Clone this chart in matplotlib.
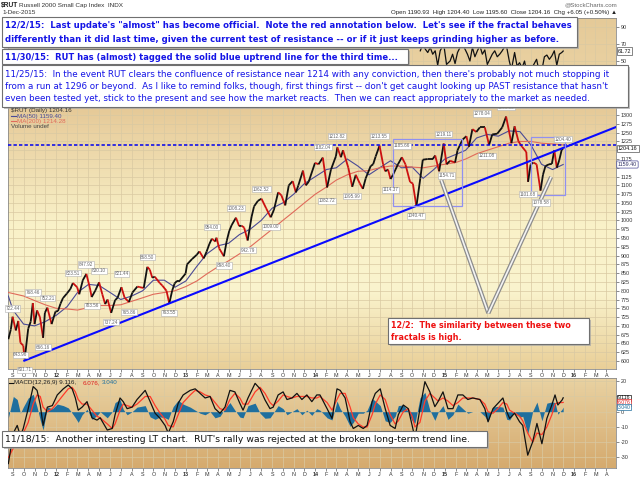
import numpy as np
import pandas as pd
import matplotlib
matplotlib.use("Agg")
import matplotlib.pyplot as plt
import matplotlib.dates as mdates
import matplotlib.transforms as mtransforms
from matplotlib.patches import Rectangle
from matplotlib.collections import LineCollection

plt.rcParams['font.family'] = ['Liberation Sans', 'DejaVu Sans']

# ---- price (closes, roughly weekly) ----
price_dates = [
    "2011-08-19", "2011-08-26", "2011-08-31", "2011-09-09", "2011-09-16", "2011-09-22", "2011-09-30",
    "2011-10-04", "2011-10-14", "2011-10-21", "2011-10-27", "2011-11-01", "2011-11-08", "2011-11-16",
    "2011-11-25", "2011-11-30", "2011-12-07", "2011-12-19", "2011-12-30",
    "2012-01-06", "2012-01-13", "2012-01-20", "2012-01-31", "2012-02-10", "2012-02-17", "2012-02-29",
    "2012-03-06", "2012-03-16", "2012-03-26", "2012-04-05", "2012-04-10", "2012-04-20", "2012-05-01",
    "2012-05-10", "2012-05-18", "2012-05-25", "2012-06-04", "2012-06-15", "2012-06-22", "2012-07-03",
    "2012-07-12", "2012-07-24", "2012-08-03", "2012-08-17", "2012-08-24", "2012-09-04", "2012-09-14",
    "2012-09-21", "2012-09-28", "2012-10-05", "2012-10-19", "2012-10-26", "2012-11-07", "2012-11-15",
    "2012-11-23", "2012-11-30", "2012-12-07", "2012-12-14", "2012-12-31",
    "2013-01-04", "2013-01-18", "2013-01-31", "2013-02-08", "2013-02-20", "2013-02-28", "2013-03-08",
    "2013-03-15", "2013-03-25", "2013-03-28", "2013-04-05", "2013-04-18", "2013-04-26", "2013-05-03",
    "2013-05-10", "2013-05-22", "2013-05-31", "2013-06-07", "2013-06-14", "2013-06-24", "2013-07-05",
    "2013-07-12", "2013-07-23", "2013-08-02", "2013-08-15", "2013-08-28", "2013-09-06", "2013-09-18",
    "2013-09-27", "2013-10-08", "2013-10-18", "2013-10-29", "2013-11-07", "2013-11-14", "2013-11-27",
    "2013-12-05", "2013-12-13", "2013-12-31",
    "2014-01-10", "2014-01-22", "2014-02-03", "2014-02-14", "2014-02-28", "2014-03-04", "2014-03-14",
    "2014-03-20", "2014-04-04", "2014-04-11", "2014-04-15", "2014-04-25", "2014-05-06", "2014-05-15",
    "2014-05-23", "2014-06-06", "2014-06-13", "2014-06-20", "2014-07-01", "2014-07-11", "2014-07-17",
    "2014-07-25", "2014-08-01", "2014-08-08", "2014-08-22", "2014-09-02", "2014-09-12", "2014-09-25",
    "2014-10-03", "2014-10-13", "2014-10-24", "2014-10-31", "2014-11-14", "2014-11-28", "2014-12-05",
    "2014-12-16", "2014-12-29",
    "2015-01-06", "2015-01-16", "2015-01-30", "2015-02-06", "2015-02-20", "2015-03-03", "2015-03-10",
    "2015-03-20", "2015-03-31", "2015-04-10", "2015-04-24", "2015-05-06", "2015-05-15", "2015-05-29",
    "2015-06-12", "2015-06-23", "2015-07-08", "2015-07-17", "2015-07-28", "2015-08-07", "2015-08-19",
    "2015-08-24", "2015-08-31", "2015-09-08", "2015-09-17", "2015-09-28", "2015-10-05", "2015-10-12",
    "2015-10-22", "2015-10-30", "2015-11-06", "2015-11-13", "2015-11-20", "2015-11-27", "2015-12-01",
]
price_close = [
    662, 690, 726, 687, 714, 652, 644,
    605, 692, 712, 765, 705, 744, 725,
    666, 737, 752, 705, 741,
    742, 763, 779, 792, 805, 822, 810,
    790, 830, 848, 808, 782, 800, 824,
    790, 762, 775, 737, 773, 780, 810,
    780, 768, 795, 812, 810, 808, 868,
    860, 837, 840, 822, 815, 800, 764,
    800, 821, 828, 828, 849,
    875, 890, 902, 912, 892, 911, 933,
    948, 940, 951, 920, 898, 942, 970,
    987, 1008, 984, 985, 980, 943, 1010,
    1040, 1056, 1062, 1035, 1009, 1030, 1080,
    1072, 1043, 1100, 1112, 1080, 1100, 1142,
    1100, 1110, 1164,
    1160, 1179, 1094, 1145, 1183, 1208, 1180,
    1200, 1150, 1115, 1096, 1130, 1106, 1090,
    1120, 1155, 1160, 1182, 1213, 1160, 1140,
    1145, 1118, 1130, 1160, 1180, 1160, 1110,
    1105, 1040, 1120, 1173, 1175, 1175, 1185,
    1140, 1219,
    1160, 1170, 1165, 1200, 1230, 1240, 1210,
    1260, 1252, 1265, 1265, 1215, 1245, 1247,
    1265, 1296, 1220, 1268, 1225, 1210, 1195,
    1110, 1159, 1165, 1160, 1085, 1130, 1155,
    1160, 1161, 1200, 1150, 1172, 1202, 1204.16,
]

# ---- moving averages (monthly readings) ----
ma_dates = [
    "2011-08-19", "2011-09-01", "2011-10-01", "2011-11-01", "2011-12-01",
    "2012-01-01", "2012-02-01", "2012-03-01", "2012-04-01", "2012-05-01", "2012-06-01",
    "2012-07-01", "2012-08-01", "2012-09-01", "2012-10-01", "2012-11-01", "2012-12-01",
    "2013-01-01", "2013-02-01", "2013-03-01", "2013-04-01", "2013-05-01", "2013-06-01",
    "2013-07-01", "2013-08-01", "2013-09-01", "2013-10-01", "2013-11-01", "2013-12-01",
    "2014-01-01", "2014-02-01", "2014-03-01", "2014-04-01", "2014-05-01", "2014-06-01",
    "2014-07-01", "2014-08-01", "2014-09-01", "2014-10-01", "2014-11-01", "2014-12-01",
    "2015-01-01", "2015-02-01", "2015-03-01", "2015-04-01", "2015-05-01", "2015-06-01",
    "2015-07-01", "2015-08-01", "2015-09-01", "2015-10-01", "2015-11-01", "2015-12-01",
]
ma50 = [
    785, 745, 705, 700, 712,
    730, 755, 795, 818, 815, 795,
    775, 785, 800, 830, 830, 810,
    828, 870, 905, 928, 935, 960,
    975, 1000, 1035, 1050, 1075, 1105,
    1125, 1145, 1150, 1175, 1155, 1130,
    1150, 1170, 1150, 1152, 1120, 1145,
    1175, 1188, 1200, 1235, 1245, 1240,
    1255, 1253, 1215, 1160, 1145, 1159.4,
]
ma200 = [
    795, 792, 785, 772, 760,
    750, 748, 745, 752, 758, 758,
    760, 770, 780, 790, 795, 800,
    812, 828, 848, 868, 885, 905,
    925, 950, 975, 1000, 1025, 1050,
    1075, 1095, 1115, 1130, 1140, 1142,
    1150, 1155, 1155, 1152, 1150, 1155,
    1160, 1165, 1175, 1190, 1200, 1210,
    1220, 1225, 1225, 1220, 1218, 1215,
]

# ---- swing labels ----
lab_dates = [
    "2011-08-31", "2011-09-22", "2011-10-04", "2011-10-27", "2011-11-25", "2011-12-07",
    "2012-02-17", "2012-03-26", "2012-04-10", "2012-05-01", "2012-06-04", "2012-07-03",
    "2012-07-24", "2012-09-14", "2012-11-15", "2013-03-15", "2013-04-18", "2013-05-22",
    "2013-06-24", "2013-08-02", "2013-08-28", "2014-01-22", "2014-02-03", "2014-03-04",
    "2014-04-15", "2014-07-01", "2014-08-01", "2014-09-02", "2014-10-13", "2014-12-29",
    "2015-01-06", "2015-04-15", "2015-04-30", "2015-06-23", "2015-08-24", "2015-09-29",
    "2015-11-30",
]
lab_values = [
    722.44, 643.96, 601.71, 768.46, 666.16, 752.21,
    823.51, 847.92, 783.56, 830.10, 737.24, 821.44,
    765.86, 868.50, 763.55, 954.00, 898.40, 1008.23,
    942.79, 1062.52, 1009.00, 1182.04, 1082.72, 1212.82,
    1095.99, 1213.55, 1114.37, 1185.66, 1040.47, 1219.11,
    1154.71, 1278.04, 1211.08, 1296.00, 1101.68, 1078.58,
    1204.40,
]
lab_up = [
    1, 0, 0, 1, 0, 1,
    1, 1, 0, 1, 0, 1,
    0, 1, 0, 1, 0, 1,
    0, 1, 0, 1, 0, 1,
    0, 1, 0, 1, 0, 1,
    0, 1, 0, 1, 0, 0,
    1,
]

# ---- annotations on the price panel ----
trend_dates = ["2011-10-03", "2016-05-03"]
trend_values = [601, 1268]
resist_level = 1214
box1_dates = ["2014-08-07", "2015-02-18"]
box1_values = [1042, 1233]
box2_dates = ["2015-09-02", "2015-12-06"]
box2_values = [1072, 1237]
pointer1_dates = ["2014-12-22", "2015-05-04"]
pointer1_values = [1115, 736]
pointer2_dates = ["2015-10-28", "2015-05-04"]
pointer2_values = [1124, 736]

# ---- MACD(12,26,9) ----
macd_dates = [
    "2011-08-19", "2011-09-02", "2011-09-13", "2011-09-22", "2011-09-30", "2011-10-14", "2011-10-28",
    "2011-11-08", "2011-11-17", "2011-11-25", "2011-12-07", "2011-12-21",
    "2012-01-04", "2012-01-21", "2012-02-04", "2012-02-15", "2012-02-24", "2012-03-03", "2012-03-14",
    "2012-03-28", "2012-04-11", "2012-04-25", "2012-05-04", "2012-05-24", "2012-06-07", "2012-06-15",
    "2012-06-29", "2012-07-08", "2012-07-19", "2012-08-02", "2012-08-16", "2012-09-08", "2012-09-22",
    "2012-10-06", "2012-10-20", "2012-11-03", "2012-11-12", "2012-11-26", "2012-12-10", "2012-12-24",
    "2013-01-13", "2013-01-27", "2013-02-10", "2013-02-24", "2013-03-10", "2013-03-24", "2013-04-07",
    "2013-04-21", "2013-05-05", "2013-05-19", "2013-06-02", "2013-06-11", "2013-06-25", "2013-07-15",
    "2013-07-29", "2013-08-12", "2013-08-26", "2013-09-04", "2013-09-18", "2013-10-02", "2013-10-13",
    "2013-10-27", "2013-11-10", "2013-11-24", "2013-12-08", "2013-12-22",
    "2014-01-05", "2014-01-14", "2014-02-03", "2014-02-17", "2014-03-03", "2014-03-12", "2014-03-26",
    "2014-04-09", "2014-04-18", "2014-05-02", "2014-05-16", "2014-05-27", "2014-06-10", "2014-06-19",
    "2014-07-03", "2014-07-17", "2014-07-31", "2014-08-14", "2014-08-23", "2014-09-06", "2014-09-20",
    "2014-10-01", "2014-10-09", "2014-10-23", "2014-11-06", "2014-11-20", "2014-12-04", "2014-12-13",
    "2014-12-27",
    "2015-01-10", "2015-01-24", "2015-02-07", "2015-02-21", "2015-03-07", "2015-03-21", "2015-04-10",
    "2015-04-24", "2015-05-03", "2015-05-17", "2015-05-31", "2015-06-14", "2015-06-25", "2015-07-03",
    "2015-07-17", "2015-07-31", "2015-08-09", "2015-08-23", "2015-09-06", "2015-09-18", "2015-10-02",
    "2015-10-16", "2015-10-30", "2015-11-08", "2015-11-16", "2015-11-28", "2015-12-01",
]
macd_line = [
    -34, -14, -9, -16, -11, 2, 16.5,
    14, 4.4, -9, 3, 4,
    11, 15, 17.5, 15, 9, 1, 3,
    6.6, -4, -5.5, -4, -12, -11, -2,
    9, 6.6, 2, 3, 8, 14, 6.6,
    -1, -4.4, -9, -14, -6.6, 5.5, 11,
    14, 15, 12, 9, 10, 2, -1,
    3, 14, 13, 5.5, 1, 9, 18.6,
    15, 7.7, 2, 3, 11, 13, 8,
    9, 12, 8, 11, 6.6,
    11, 11, 2, -4.4, 15, 14, 9,
    -6.6, -11, -9, -11, -9, 6.6, 12,
    15, 2, -9, -11, -2, 4.4, 2,
    -9, -17.5, 2, 19.7, 13, 3.3, 6.6,
    13,
    2, 2, 11, 11, 8, 9, 8,
    2, -6.6, 2, 5.5, 9, 0, -4.4,
    -1, -6.6, -9, -28.5, -19.7, -7.7, -21,
    -4.4, 4.4, 11, 4.4, 7.7, 9.116,
]
macd_signal = [
    -30, -24, -17, -15, -14, -7, 5,
    11, 10, 3, 0, 2,
    6, 11, 15, 16, 13, 8, 5,
    5, 1, -3, -4, -8, -11, -8,
    1, 5, 4, 3, 5, 10, 10,
    4, -1, -5, -9, -10, -2, 6,
    11, 14, 13, 11, 10, 6, 2,
    1, 8, 12, 9, 5, 5, 13,
    16, 12, 6, 4, 7, 11, 10,
    9, 10, 10, 10, 9,
    9, 10, 6, 1, 8, 12, 12,
    3, -4, -8, -10, -10, -2, 5,
    11, 8, -2, -8, -6, 0, 2,
    -3, -10, -7, 7, 12, 9, 7,
    9,
    7, 4, 6, 9, 9, 9, 8,
    5, 0, -1, 2, 6, 5, 1,
    -1, -3, -6, -14, -20, -14, -15,
    -10, -2, 5, 6, 6, 6.076,
]

# ---- RSI(14), only the part left uncovered by the notes ----
rsi_dates = [
    "2014-10-24", "2014-10-31", "2014-11-07", "2014-11-14", "2014-11-21", "2014-11-28", "2014-12-05",
    "2014-12-12", "2014-12-19", "2014-12-29", "2015-01-06", "2015-01-16", "2015-01-23", "2015-01-30",
    "2015-02-06", "2015-02-13", "2015-02-20", "2015-02-27", "2015-03-06", "2015-03-13", "2015-03-20",
    "2015-03-27", "2015-04-03", "2015-04-10", "2015-04-17", "2015-04-24", "2015-05-01", "2015-05-08",
    "2015-05-15", "2015-05-22", "2015-05-29", "2015-06-05", "2015-06-12", "2015-06-23", "2015-07-02",
    "2015-07-08", "2015-07-17", "2015-07-24", "2015-07-31", "2015-08-07", "2015-08-14", "2015-08-24",
    "2015-09-04", "2015-09-17", "2015-09-28", "2015-10-09", "2015-10-16", "2015-10-23", "2015-10-30",
    "2015-11-06", "2015-11-13", "2015-11-20", "2015-11-27", "2015-12-01",
]
rsi_values = [
    62, 70, 64, 60, 66, 58, 62,
    45, 62, 70, 46, 50, 58, 47,
    60, 66, 70, 64, 58, 50, 66,
    55, 62, 68, 58, 63, 46, 52,
    58, 62, 55, 58, 62, 70, 50,
    40, 60, 44, 48, 42, 50, 28,
    42, 52, 30, 55, 57, 52, 56,
    62, 45, 58, 60, 61.72,
]

W, H = 640, 479
fig = plt.figure(figsize=(6.4, 4.79), dpi=100)


def px_axes(x0, y0, x1, y1):
    return fig.add_axes([x0 / W, 1 - y1 / H, (x1 - x0) / W, (y1 - y0) / H])


def shade(ax, stops):
    pos = [s[0] for s in stops]
    cols = np.array([s[1] for s in stops]) / 255.0
    t = np.linspace(0, 1, 256)
    img = np.stack([np.interp(t, pos, cols[:, k]) for k in range(3)], axis=1)[:, None, :]
    ax.imshow(img, extent=[0, 1, 0, 1], transform=ax.transAxes, aspect='auto',
              origin='lower', zorder=0, interpolation='bilinear')


def to_num(d):
    return mdates.date2num(pd.to_datetime(d))


def hide_ticklabels(ax, values):
    labels = [("" if v in values else f"{v:g}") for v in ax.get_yticks()]
    ax.set_yticklabels(labels)


ax_rsi = px_axes(8, 18, 616, 103)
ax_p = px_axes(8, 104, 616, 369)
ax_m = px_axes(8, 378, 616, 468)

xmin, xmax = to_num("2011-08-18"), to_num("2016-04-28")
months = pd.date_range("2011-09-01", "2016-04-01", freq="MS")
month_lbl = [str(d.year)[2:] if d.month == 1 else "JFMAMJJASOND"[d.month - 1] for d in months]
grid_c = "#d9c9a2"

for ax in (ax_rsi, ax_p, ax_m):
    ax.set_xlim(xmin, xmax)
    ax.yaxis.tick_right()
    ax.tick_params(axis='y', labelsize=3.9, length=2, width=0.4, colors='#333333', pad=1.5)
    ax.tick_params(axis='x', labelsize=3.9, length=2, width=0.4, colors='#333333', pad=1.2)
    ax.set_xticks(mdates.date2num(months))
    ax.grid(True, color=grid_c, lw=0.5)
    for s in ax.spines.values():
        s.set_color('#8a8a8a')
        s.set_linewidth(0.6)

for ax in (ax_p, ax_m):
    ax.set_xticklabels(month_lbl)
    for t, d in zip(ax.get_xticklabels(), months):
        if d.month == 1:
            t.set_fontweight('bold')
ax_rsi.set_xticklabels([])

shade(ax_p, [(0.0, (233, 207, 152)), (0.3, (250, 244, 206)), (0.55, (249, 241, 200)), (1.0, (229, 200, 150))])
shade(ax_m, [(0.0, (213, 170, 110)), (1.0, (233, 210, 162))])
shade(ax_rsi, [(0.0, (236, 214, 168)), (1.0, (229, 202, 152))])

# ---- price panel ----
px_x = to_num(price_dates)
px_y = np.array(price_close, dtype=float)
segs = np.stack([np.column_stack([px_x[:-1], px_y[:-1]]), np.column_stack([px_x[1:], px_y[1:]])], axis=1)
seg_col = ['#111111' if b >= a else '#cc1010' for a, b in zip(px_y[:-1], px_y[1:])]
ax_p.add_collection(LineCollection(segs, colors=seg_col, linewidths=1.3, zorder=4))

ma_x = to_num(ma_dates)
ax_p.plot(ma_x, ma50, color='#4a4a96', lw=0.8, zorder=3)
ax_p.plot(ma_x, ma200, color='#e06a5a', lw=0.8, zorder=3)

ax_p.axhline(resist_level, color='#0000ee', lw=1.1, ls=(0, (2.2, 1.4)), zorder=5)
ax_p.plot(to_num(trend_dates), trend_values, color='#0a0aff', lw=1.5, zorder=5)

for bd, bv in ((box1_dates, box1_values), (box2_dates, box2_values)):
    bx = to_num(bd)
    ax_p.add_patch(Rectangle((bx[0], bv[0]), bx[1] - bx[0], bv[1] - bv[0],
                             fill=False, ec='#9090f0', lw=0.9, zorder=5))

for pd_, pv in ((pointer1_dates, pointer1_values), (pointer2_dates, pointer2_values)):
    ax_p.plot(to_num(pd_), pv, color='#8c8c8c', lw=3.0, solid_capstyle='butt', zorder=6)
    ax_p.plot(to_num(pd_), pv, color='#f4f4f4', lw=1.2, solid_capstyle='butt', zorder=6)

for d, v, up in zip(lab_dates, lab_values, lab_up):
    ax_p.annotate(f"{v:.2f}", xy=(to_num(d), v), xytext=(0, 5 if up else -5),
                  textcoords='offset points', ha='center', va='bottom' if up else 'top',
                  fontsize=3.3, color='#666666', zorder=7,
                  bbox=dict(boxstyle='square,pad=0.15', fc='white', ec='#b0b0b0', lw=0.4))

ax_p.set_ylim(577.2, 1331.6)
ax_p.set_yticks(np.arange(600, 1301, 25))
hide_ticklabels(ax_p, (1150, 1200))

trp = mtransforms.blended_transform_factory(ax_p.transAxes, ax_p.transData)
ax_p.text(1.003, price_close[-1], f"{price_close[-1]:.2f}", transform=trp, fontsize=3.9, va='center',
          ha='left', color='#111111', zorder=8,
          bbox=dict(boxstyle='square,pad=0.2', fc='white', ec='#555555', lw=0.5), clip_on=False)
ax_p.text(1.003, ma50[-1], f"{ma50[-1]:.2f}", transform=trp, fontsize=3.9, va='center',
          ha='left', color='#333366', zorder=8,
          bbox=dict(boxstyle='round,pad=0.2', fc='white', ec='#4a4a96', lw=0.5), clip_on=False)

# ---- RSI panel ----
ax_rsi.plot(to_num(rsi_dates), rsi_values, color='#111111', lw=0.9, zorder=4)
ax_rsi.set_ylim(0.6, 100.6)
ax_rsi.set_yticks([10, 30, 50, 70, 90])
trr = mtransforms.blended_transform_factory(ax_rsi.transAxes, ax_rsi.transData)
ax_rsi.text(1.003, rsi_values[-1], f"{rsi_values[-1]:.2f}", transform=trr, fontsize=3.9, va='center',
            ha='left', color='#111111', bbox=dict(boxstyle='square,pad=0.2', fc='white', ec='#555555', lw=0.5),
            clip_on=False, zorder=8)

# ---- MACD panel ----
mx = to_num(macd_dates)
mline = np.array(macd_line, dtype=float)
msig = np.array(macd_signal, dtype=float)
hist = mline - msig
ax_m.fill_between(mx, hist, 0, color='#1f6f9e', lw=0, zorder=3)
ax_m.plot(mx, msig, color='#ff3a2a', lw=0.9, zorder=4)
ax_m.plot(mx, mline, color='#111111', lw=0.9, zorder=5)
ax_m.set_ylim(-36.9, 22.1)
ax_m.set_yticks([-30, -20, -10, 0, 10, 20])
hide_ticklabels(ax_m, (10,))
trm = mtransforms.blended_transform_factory(ax_m.transAxes, ax_m.transData)
for v, c in ((mline[-1], '#111111'), (msig[-1], '#e02020'), (hist[-1], '#1f6f9e')):
    ax_m.text(1.003, v, f"{v:.3f}", transform=trm, fontsize=3.7, va='center', ha='left', color=c,
              bbox=dict(boxstyle='square,pad=0.15', fc='white', ec=c, lw=0.5), clip_on=False, zorder=8)

# ---- overlay in pixel coordinates: header, legends, notes ----
ov = fig.add_axes([0, 0, 1, 1], zorder=20)
ov.set_xlim(0, W)
ov.set_ylim(H, 0)
ov.axis('off')

ov.text(1, 5, "$RUT", fontsize=4.8, fontweight='bold', va='center', color='#222222')
ov.text(19, 5, "Russell 2000 Small Cap Index  INDX", fontsize=4.6, va='center', color='#333333')
ov.text(2, 12.5, "1-Dec-2015", fontsize=4.6, va='center', color='#333333')
ov.text(617, 5, "@StockCharts.com", fontsize=4.4, va='center', ha='right', color='#666666')
ov.text(617, 12.5, "Open 1190.93  High 1204.40  Low 1195.60  Close 1204.16  Chg +6.05 (+0.50%) \u25b2",
        fontsize=4.4, va='center', ha='right', color='#222222')

ov.text(11, 110.7, "$RUT (Daily) 1204.16", fontsize=4.5, va='center', color='#333333')
ov.plot([11, 16], [116, 116], color='#4a4a96', lw=0.8)
ov.text(17, 116, f"MA(50) {ma50[-1]:.2f}", fontsize=4.5, va='center', color='#4a4a96')
ov.plot([11, 16], [121.3, 121.3], color='#e06a5a', lw=0.8)
ov.text(17, 121.3, "MA(200) 1214.28", fontsize=4.5, va='center', color='#e06a5a')
ov.text(11, 126.7, "Volume undef", fontsize=4.5, va='center', color='#444444')

ov.plot([9, 13], [382.5, 382.5], color='#111111', lw=0.8)
ov.text(14, 382.5, f"MACD(12,26,9) {mline[-1]:.3f},", fontsize=4.5, va='center', color='#222222')
ov.text(83, 382.5, f"{msig[-1]:.3f},", fontsize=4.5, va='center', color='#e02020')
ov.text(102, 382.5, f"{hist[-1]:.3f}", fontsize=4.5, va='center', color='#1f6f9e')


def note_box(x0, y0, x1, y1):
    ov.add_patch(Rectangle((x0 + 2, y0 + 2), x1 - x0, y1 - y0, fc='#a8a8a8', ec='none', alpha=0.7))
    ov.add_patch(Rectangle((x0, y0), x1 - x0, y1 - y0, fc='white', ec='#707070', lw=0.8))


note_font = 'DejaVu Sans'
blue = '#1414e6'
note_box(2, 16.7, 577, 46.7)
ov.text(5, 25, "12/2/15:  Last update's \"almost\" has become official.  Note the red annotation below.  "
        "Let's see if the fractal behaves", fontsize=6.15, fontweight='bold', color=blue, va='center',
        family=note_font)
ov.text(5, 39, "differently than it did last time, given the current test of resistance -- "
        "or if it just keeps grinding higher as before.", fontsize=6.15, fontweight='bold', color=blue,
        va='center', family=note_font)

note_box(2, 49.3, 408, 64)
ov.text(5, 57, "11/30/15:  RUT has (almost) tagged the solid blue uptrend line for the third time...",
        fontsize=6.0, fontweight='bold', color=blue, va='center', family=note_font)

note_box(2, 65, 628, 107.3)
c_lines = [
    "11/25/15:  In the event RUT clears the confluence of resistance near 1214 with any conviction, "
    "then there's probably not much stopping it",
    "from a run at 1296 or beyond.  As I like to remind folks, though, first things first -- "
    "don't get caught looking up PAST resistance that hasn't",
    "even been tested yet, stick to the present and see how the market reacts.  "
    "Then we can react appropriately to the market as needed.",
]
for i, s in enumerate(c_lines):
    ov.text(5, 74 + 12 * i, s, fontsize=6.3, color=blue, va='center', family=note_font)

note_box(2, 431, 487, 447)
ov.text(5, 439, "11/18/15:  Another interesting LT chart.  RUT's rally was rejected at the broken "
        "long-term trend line.", fontsize=6.7, color='#111111', va='center', family=note_font)

note_box(388, 318, 589, 344)
ov.text(391, 325.7, "12/2:  The similarity between these two", fontsize=5.8, fontweight='bold',
        color='#ee1111', va='center', family=note_font)
ov.text(391, 337.7, "fractals is high.", fontsize=5.8, fontweight='bold', color='#ee1111', va='center',
        family=note_font)

fig.savefig("out.png", dpi=100)
